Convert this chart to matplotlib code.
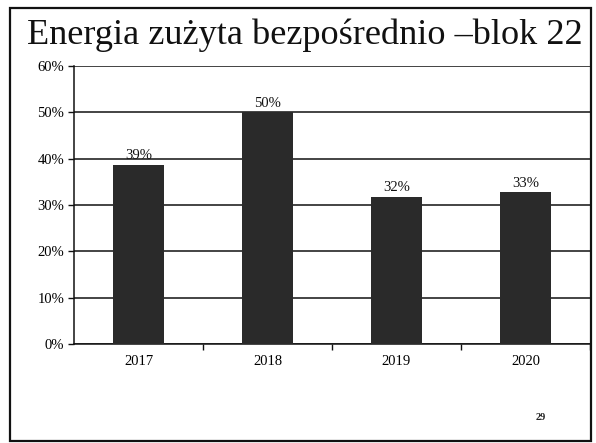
import matplotlib
matplotlib.use("Agg")
import matplotlib.pyplot as plt
from matplotlib.patches import Rectangle
from matplotlib.ticker import FuncFormatter

title = "Energia zużyta bezpośrednio –blok 22"
years = ["2017", "2018", "2019", "2020"]
values = [38.7, 50.0, 31.8, 32.8]
value_labels = ["39%", "50%", "32%", "33%"]
y_ticks = [0, 10, 20, 30, 40, 50, 60]
page_number = "29"

plt.rcParams['font.family'] = ['Liberation Serif', 'DejaVu Serif']

W, H = 596, 443
fig = plt.figure(figsize=(W / 100, H / 100), dpi=100)
fig.patch.set_facecolor("white")

# slide border
fig.patches.append(Rectangle((10 / W, 1 - 441 / H), (591 - 10) / W, (441 - 8) / H,
                             transform=fig.transFigure, fill=False,
                             edgecolor="#111111", linewidth=1.6))

fig.text(305 / W, 1 - 35 / H, title, ha="center", va="center",
         fontsize=26.1, color="#111111")
fig.text(541 / W, 1 - 418 / H, page_number, ha="center", va="center",
         fontsize=7.5, fontweight="bold", color="#222222")

ax = fig.add_axes([74 / W, 1 - 344 / H, (590 - 74) / W, (344 - 66) / H])
x = range(len(years))
bars = ax.bar(x, values, width=0.39, color="#2a2a2a", zorder=3)
for xi, v, lab in zip(x, values, value_labels):
    ax.text(xi, v + 0.5, lab, ha="center", va="bottom", fontsize=10.5, color="#111111")

ax.set_xlim(-0.5, 3.5)
ax.set_ylim(0, 60)
ax.set_yticks(y_ticks)
ax.yaxis.set_major_formatter(FuncFormatter(lambda v, p: f"{int(v)}%"))
ax.grid(axis="y", color="#111111", linewidth=1.1, zorder=0)
ax.set_xticks(list(x))
ax.set_xticklabels(years, fontsize=10.5)
ax.set_xticks([0.5, 1.5, 2.5, 3.5], minor=True)
ax.tick_params(axis="x", which="major", length=0, pad=8)
ax.tick_params(axis="x", which="minor", length=4, width=1, color="#111111", direction="out")
ax.tick_params(axis="y", length=4, width=1, color="#111111", labelsize=10.5, pad=3)
for s in ["top", "right"]:
    ax.spines[s].set_visible(False)
ax.spines["left"].set_linewidth(1.1)
ax.spines["bottom"].set_linewidth(1.1)
ax.spines["left"].set_color("#111111")
ax.spines["bottom"].set_color("#111111")

fig.savefig("out.png", dpi=100, facecolor="white")
